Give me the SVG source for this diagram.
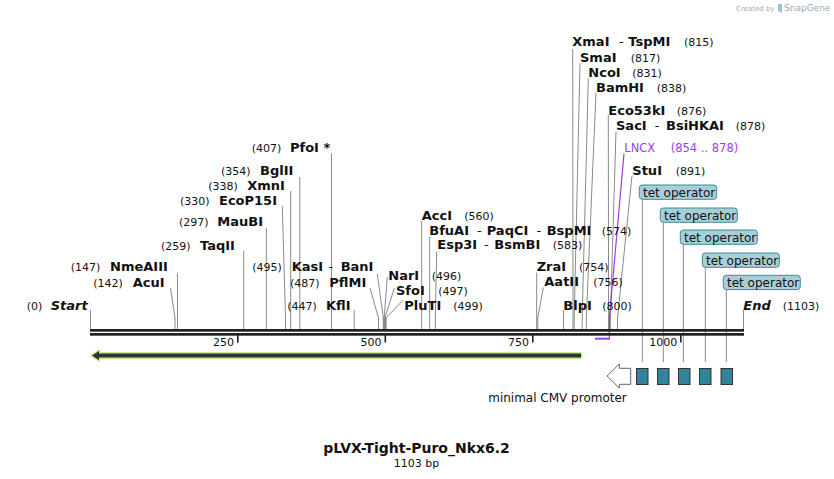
<svg xmlns="http://www.w3.org/2000/svg" width="834" height="479" viewBox="0 0 834 479">
<style>
text{font-family:"DejaVu Sans","Liberation Sans",sans-serif;fill:#111}
.n{font-size:11px;font-weight:normal}
.b{font-size:13px;font-weight:bold}
.bi{font-size:13px;font-weight:bold;font-style:italic}
.d{font-size:13px;font-weight:normal}
.site{fill:none;stroke:#8a8a8a;stroke-width:1}
.tet{fill:#a9ced7;stroke:#3f8a9b;stroke-width:1}
.tett{font-size:12px}
.sq{fill:#31849b;stroke:#333;stroke-width:1}
.lncx{fill:#a03ce6}
</style>
<rect width="834" height="479" fill="#fff"/>
<g id="watermark">
<text x="736" y="11" style="font-size:7px;fill:#aaa">Created by</text>
<path d="M778 4 l4 0 l0 9 l-4 -2 z" fill="#9cc4d6"/>
<text x="784" y="11" style="font-size:9px;fill:#9aa9b4">SnapGene</text>
</g>
<g id="connectors">
<path class="site" d="M90.5 310V329"/>
<path class="site" d="M170.5 288L175 318V329"/>
<path class="site" d="M177.5 273.5V329"/>
<path class="site" d="M243.7 250.7V329"/>
<path class="site" d="M266.3 227.7V329"/>
<path class="site" d="M282.3 205.7L285.5 318V329"/>
<path class="site" d="M290.7 191V329"/>
<path class="site" d="M299.8 177V329"/>
<path class="site" d="M331.5 153.5V329"/>
<path class="site" d="M354.2 310V329"/>
<path class="site" d="M370 288L378.5 318V329"/>
<path class="site" d="M377.3 274L383.3 318V329"/>
<path class="site" d="M387.3 277L384.2 318V329"/>
<path class="site" d="M394.3 288L384.9 318V329"/>
<path class="site" d="M403.3 300L385.8 318V329"/>
<path d="M383 317h3.5v12h-3.5z" fill="#8a8a8a"/>
<path class="site" d="M421.7 221V329"/>
<path class="site" d="M429.7 236.7V329"/>
<path class="site" d="M436.7 251.7L435.3 318V329"/>
<path class="site" d="M536.7 272.7V329"/>
<path class="site" d="M543.3 287.3L537.8 318V329"/>
<path class="site" d="M563.5 310V329"/>
<path class="site" d="M572.7 49L573 318V329"/>
<path class="site" d="M580 63.3L574.2 318V329"/>
<path class="site" d="M588.3 78.3L582.2 318V329"/>
<path class="site" d="M596 92.7L586.3 318V329"/>
<path class="site" d="M608.3 115L608.6 318V329"/>
<path class="site" d="M616 131.7L610.4 318V329"/>
<path class="site" d="M632 175.7L617.5 318V329"/>
<path class="site" d="M743.5 310V329"/>
<path d="M624 153.5L609.4 318V339.5" fill="none" stroke="#a03ce6" stroke-width="1.2"/>
<path d="M595 338.7H609.8" fill="none" stroke="#a03ce6" stroke-width="2"/>
<path class="site" d="M642.3 199.3V362"/>
<path class="site" d="M663.3 222.3V362"/>
<path class="site" d="M683.3 244.3V362"/>
<path class="site" d="M705.3 267.3V362"/>
<path class="site" d="M726.3 289.7V362"/>
</g>
<g id="backbone">
<rect x="90" y="329" width="654" height="2.7" fill="#222"/>
<rect x="90" y="333" width="654" height="2.7" fill="#222"/>
<rect x="237" y="335" width="1.6" height="7.7" fill="#222"/>
<rect x="384.5" y="335" width="1.6" height="7.5" fill="#222"/>
<rect x="532" y="335" width="1.6" height="7.5" fill="#222"/>
<rect x="680" y="335" width="1.6" height="7.5" fill="#222"/>
<text class="n" x="234" y="346" text-anchor="end">250</text>
<text class="n" x="381.5" y="346" text-anchor="end">500</text>
<text class="n" x="529" y="346" text-anchor="end">750</text>
<text class="n" x="677.3" y="346" text-anchor="end">1000</text>
</g>
<g id="enz-start"><text class="n" x="26.7" y="309.5">(0)</text><text class="bi" x="50.7" y="309.5">Start</text></g>
<g id="enz-acui"><text class="n" x="93.3" y="287">(142)</text><text class="b" x="132.7" y="287">AcuI</text></g>
<g id="enz-nmeaiii"><text class="n" x="70.7" y="271">(147)</text><text class="b" x="110" y="271">NmeAIII</text></g>
<g id="enz-taqii"><text class="n" x="161" y="249.5">(259)</text><text class="b" x="200" y="249.5">TaqII</text></g>
<g id="enz-maubi"><text class="n" x="179" y="226">(297)</text><text class="b" x="217.3" y="226">MauBI</text></g>
<g id="enz-ecop15i"><text class="n" x="180" y="204.5">(330)</text><text class="b" x="219" y="204.5">EcoP15I</text></g>
<g id="enz-xmni"><text class="n" x="208.3" y="189.5">(338)</text><text class="b" x="247.3" y="189.5">XmnI</text></g>
<g id="enz-bglii"><text class="n" x="221" y="175">(354)</text><text class="b" x="260" y="175">BglII</text></g>
<g id="enz-pfoi"><text class="n" x="251.7" y="152">(407)</text><text class="b" x="290" y="152">PfoI *</text></g>
<g id="enz-kfli"><text class="n" x="287.3" y="309.5">(447)</text><text class="b" x="326" y="309.5">KflI</text></g>
<g id="enz-pflmi"><text class="n" x="290" y="287">(487)</text><text class="b" x="329.3" y="287">PflMI</text></g>
<g id="enz-kasi"><text class="n" x="252.3" y="270.5">(495)</text><text class="b" x="291.7" y="270.5">KasI</text><text class="d" x="328.5" y="270.5">-</text><text class="b" x="340.7" y="270.5">BanI</text></g>
<g id="enz-nari"><text class="b" x="388.3" y="279.5">NarI</text><text class="n" x="431.7" y="279.5">(496)</text></g>
<g id="enz-sfoi"><text class="b" x="396" y="294.5">SfoI</text><text class="n" x="438.3" y="294.5">(497)</text></g>
<g id="enz-pluti"><text class="b" x="404.3" y="309.5">PluTI</text><text class="n" x="453.3" y="309.5">(499)</text></g>
<g id="enz-acci"><text class="b" x="421.7" y="219.5">AccI</text><text class="n" x="464.3" y="219.5">(560)</text></g>
<g id="enz-bfuai"><text class="b" x="429.3" y="234.5">BfuAI</text><text class="d" x="477" y="234.5">-</text><text class="b" x="486.7" y="234.5">PaqCI</text><text class="d" x="536.5" y="234.5">-</text><text class="b" x="546.7" y="234.5">BspMI</text><text class="n" x="601.7" y="234.5">(574)</text></g>
<g id="enz-esp3i"><text class="b" x="437.3" y="249">Esp3I</text><text class="d" x="484" y="249">-</text><text class="b" x="494.3" y="249">BsmBI</text><text class="n" x="552.7" y="249">(583)</text></g>
<g id="enz-zrai"><text class="b" x="536.7" y="271">ZraI</text><text class="n" x="579" y="271">(754)</text></g>
<g id="enz-aatii"><text class="b" x="544.3" y="286">AatII</text><text class="n" x="593.3" y="286">(756)</text></g>
<g id="enz-blpi"><text class="b" x="563.3" y="309.5">BlpI</text><text class="n" x="602.3" y="309.5">(800)</text></g>
<g id="enz-xmai"><text class="b" x="572.3" y="46">XmaI</text><text class="d" x="619" y="46">-</text><text class="b" x="628.3" y="46">TspMI</text><text class="n" x="684" y="46">(815)</text></g>
<g id="enz-smai"><text class="b" x="580" y="62">SmaI</text><text class="n" x="630.7" y="62">(817)</text></g>
<g id="enz-ncoi"><text class="b" x="588.3" y="76.5">NcoI</text><text class="n" x="632.3" y="76.5">(831)</text></g>
<g id="enz-bamhi"><text class="b" x="596" y="91.5">BamHI</text><text class="n" x="656.7" y="91.5">(838)</text></g>
<g id="enz-eco53ki"><text class="b" x="608.3" y="115">Eco53kI</text><text class="n" x="676.7" y="115">(876)</text></g>
<g id="enz-saci"><text class="b" x="616" y="129.5">SacI</text><text class="d" x="654.7" y="129.5">-</text><text class="b" x="666" y="129.5">BsiHKAI</text><text class="n" x="735.7" y="129.5">(878)</text></g>
<g id="feat-lncx"><text class="lncx" x="624.3" y="151.5" style="font-size:11.5px">LNCX</text><text class="lncx" x="670.7" y="151.5" style="font-size:11.5px">(854 .. 878)</text></g>
<g id="enz-stui"><text class="b" x="632.3" y="174.5">StuI</text><text class="n" x="675.7" y="174.5">(891)</text></g>
<g id="enz-end"><text class="bi" x="743.3" y="309.5">End</text><text class="n" x="782.7" y="309.5">(1103)</text></g>
<g id="tet1"><rect class="tet" x="639.3" y="185" width="77.4" height="14.3" rx="3"/><text class="tett" x="643" y="196.5">tet operator</text></g>
<g id="tet2"><rect class="tet" x="660.3" y="208" width="77" height="14.3" rx="3"/><text class="tett" x="664" y="219.5">tet operator</text></g>
<g id="tet3"><rect class="tet" x="680.3" y="230" width="77" height="14.3" rx="3"/><text class="tett" x="684" y="241.5">tet operator</text></g>
<g id="tet4"><rect class="tet" x="702.3" y="253" width="77" height="14.3" rx="3"/><text class="tett" x="706" y="264.5">tet operator</text></g>
<g id="tet5"><rect class="tet" x="723.3" y="275.3" width="77" height="14.3" rx="3"/><text class="tett" x="727" y="286.8">tet operator</text></g>
<g id="orf-arrow">
<path d="M92 355.6L99 351V353.6H581V357.6H99V360.2Z" fill="#333" stroke="#c4f08c" stroke-width="3" stroke-linejoin="round" paint-order="stroke"/>
</g>
<g id="tet-boxes">
<rect class="sq" x="636.5" y="368.5" width="11.5" height="16"/>
<rect class="sq" x="657.5" y="368.5" width="11.5" height="16"/>
<rect class="sq" x="678.5" y="368.5" width="11.5" height="16"/>
<rect class="sq" x="699.5" y="368.5" width="11.5" height="16"/>
<rect class="sq" x="721" y="368.5" width="11.5" height="16"/>
</g>
<g id="cmv-promoter">
<path d="M607 376L619.3 364V368.3H630.7V384.3H619.3V388Z" fill="#fff" stroke="#666" stroke-width="1"/>
<text x="557.5" y="402" text-anchor="middle" style="font-size:12px">minimal CMV promoter</text>
</g>
<g id="title">
<text x="416.5" y="452.5" text-anchor="middle" style="font-size:14px;font-weight:bold">pLVX-Tight-Puro_Nkx6.2</text>
<text x="416.5" y="466.5" text-anchor="middle" style="font-size:11px">1103 bp</text>
</g>
</svg>
